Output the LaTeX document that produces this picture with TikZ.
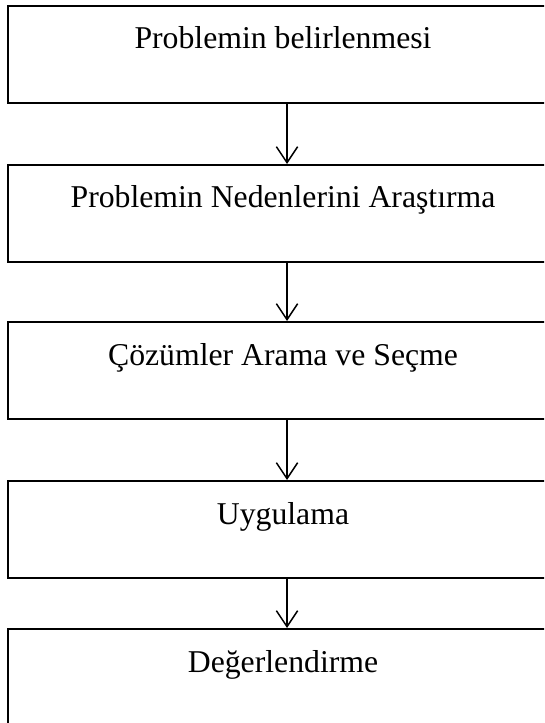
\documentclass[tikz,border=0pt]{standalone}
\usepackage{fontspec}
\setmainfont{Liberation Serif}
\usepackage{tikz}
\usetikzlibrary{arrows.meta}

\begin{document}
\begin{tikzpicture}[x=0.75pt, y=-0.75pt,
  stage/.style={draw, line width=1.5pt, inner sep=0pt, anchor=north,
    minimum width=412.5pt, text height=32.25pt, text depth=40.5pt,
    font=\fontsize{23.8pt}{28pt}\selectfont},
  flow/.style={line width=1.1pt, -{Straight Barb[length=12pt, width=16pt, line width=1.1pt]}}]
\useasboundingbox (0,0) rectangle (544,723);
\clip (0,0) rectangle (544,723);
% stages
\node[stage] (belirleme) at (283,5) {Problemin belirlenmesi};
\node[stage] (nedenler) at (283,164) {Problemin Nedenlerini Araştırma};
\node[stage] (cozumler) at (283,321) {Çözümler Arama ve Seçme};
\node[stage] (uygulama) at (283,480) {Uygulama};
\node[stage] (degerlendirme) at (283,628) {Değerlendirme};
% arrows
\draw[flow] ([xshift=3pt]belirleme.south) -- ([xshift=3pt]nedenler.north);
\draw[flow] ([xshift=3pt]nedenler.south) -- ([xshift=3pt]cozumler.north);
\draw[flow] ([xshift=3pt]cozumler.south) -- ([xshift=3pt]uygulama.north);
\draw[flow] ([xshift=3pt]uygulama.south) -- ([xshift=3pt]degerlendirme.north);
\end{tikzpicture}
\end{document}
